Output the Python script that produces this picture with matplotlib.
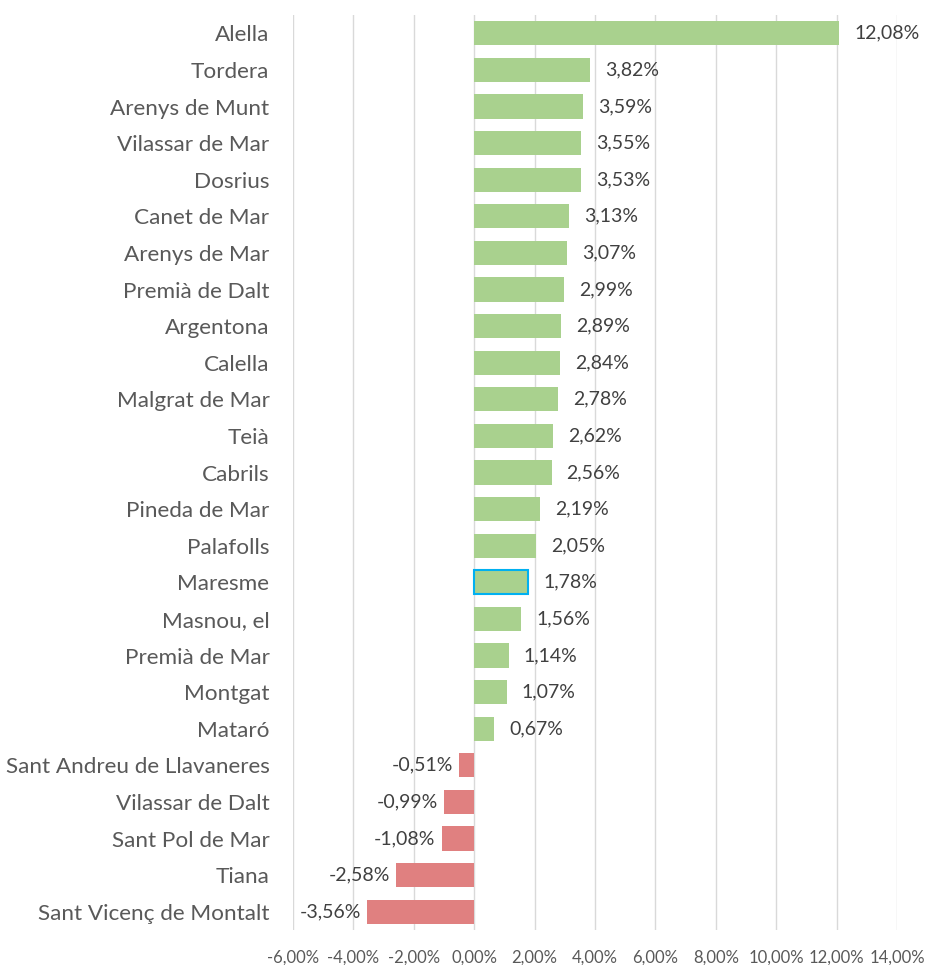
import matplotlib.pyplot as plt
from matplotlib.ticker import FuncFormatter

plt.rcParams['font.family'] = ['Lato', 'DejaVu Sans']

municipis = ['Alella', 'Tordera', 'Arenys de Munt', 'Vilassar de Mar', 'Dosrius',
             'Canet de Mar', 'Arenys de Mar', 'Premià de Dalt', 'Argentona', 'Calella',
             'Malgrat de Mar', 'Teià', 'Cabrils', 'Pineda de Mar', 'Palafolls',
             'Maresme', 'Masnou, el', 'Premià de Mar', 'Montgat', 'Mataró',
             'Sant Andreu de Llavaneres', 'Vilassar de Dalt', 'Sant Pol de Mar',
             'Tiana', 'Sant Vicenç de Montalt']
variacio = [12.08, 3.82, 3.59, 3.55, 3.53, 3.13, 3.07, 2.99, 2.89, 2.84,
            2.78, 2.62, 2.56, 2.19, 2.05, 1.78, 1.56, 1.14, 1.07, 0.67,
            -0.51, -0.99, -1.08, -2.58, -3.56]
destacat = 'Maresme'
ticks = [-6, -4, -2, 0, 2, 4, 6, 8, 10, 12, 14]

def pct(v):
    return f'{v:.2f}%'.replace('.', ',')

fig = plt.figure(figsize=(9.26, 9.65), dpi=100)
ax = fig.add_axes([293 / 926, 35 / 965, 604 / 926, 915 / 965])

y = list(range(len(municipis)))
for i, (nom, v) in enumerate(zip(municipis, variacio)):
    color = '#a9d18e' if v >= 0 else '#e08080'
    if nom == destacat:
        ax.barh(i, v, height=0.66, color=color, edgecolor='#00b0f0', linewidth=1.5, zorder=3)
    else:
        ax.barh(i, v, height=0.66, color=color, zorder=3)
    if v >= 0:
        ax.text(v + 0.5, i, pct(v), va='center', ha='left', fontsize=14, color='#404040')
    else:
        ax.text(v - 0.2, i, pct(v), va='center', ha='right', fontsize=14, color='#404040')

ax.set_xlim(-6, 14)
ax.set_ylim(len(municipis) - 0.5, -0.5)
ax.set_xticks(ticks)
ax.xaxis.set_major_formatter(FuncFormatter(lambda v, p: pct(v)))
ax.set_yticks(y)
ax.set_yticklabels(municipis, fontsize=16.2, color='#595959')
ax.tick_params(axis='x', labelsize=12, colors='#595959', length=0, pad=14)
ax.tick_params(axis='y', length=0, pad=17)
ax.grid(axis='x', color='#d9d9d9', linewidth=1, zorder=0)
for s in ax.spines.values():
    s.set_visible(False)

plt.savefig('out.png', dpi=100)
